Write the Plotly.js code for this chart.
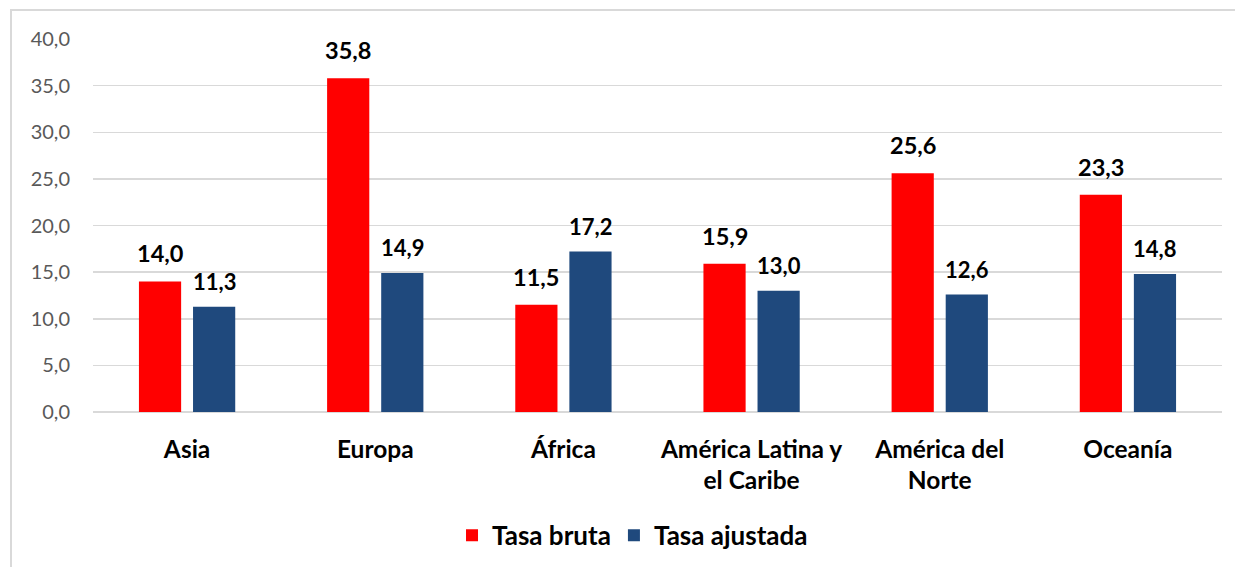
<!DOCTYPE html>
<html>
<head>
<meta charset="utf-8">
<script src="https://cdn.plot.ly/plotly-3.0.1.min.js"></script>
<style>
html,body{margin:0;padding:0;background:#fff;}
#wrap{position:relative;width:1235px;height:567px;overflow:hidden;}
#chart{position:absolute;left:0;top:0;width:1235px;height:567px;}
#frame{position:absolute;left:10px;top:9px;width:1300px;height:700px;border-left:2px solid #d9d9d9;border-top:2px solid #d9d9d9;pointer-events:none;}
</style>
</head>
<body>
<div id="wrap"><div id="chart"></div><div id="frame"></div></div>
<script>
const categories = ["Asia", "Europa", "África", "América Latina y<br>el Caribe", "América del<br>Norte", "Oceanía"];
const tasaBruta = [14.0, 35.8, 11.5, 15.9, 25.6, 23.3];
const tasaAjustada = [11.3, 14.9, 17.2, 13.0, 12.6, 14.8];
const seriesNames = ["Tasa bruta", "Tasa ajustada"];
const yTicks = [0, 5, 10, 15, 20, 25, 30, 35, 40];

const fontFam = "Lato, 'Open Sans', sans-serif";
const fmt = v => v.toFixed(1).replace('.', ',');

const traces = [
  {type:'bar', name:seriesNames[0], x:categories, y:tasaBruta, marker:{color:'#FF0000'}, hoverinfo:'y'},
  {type:'bar', name:seriesNames[1], x:categories, y:tasaAjustada, marker:{color:'#1F497D'}, hoverinfo:'y'}
];

const annotations = [];
categories.forEach((c, i) => {
  annotations.push({x:c, y:tasaBruta[i], xref:'x', yref:'y', text:'<b>'+fmt(tasaBruta[i])+'</b>', showarrow:false, xanchor:'center', yanchor:'bottom', xshift:-27, yshift:12, font:{family:fontFam, size:23.5, color:'#000'}});
  annotations.push({x:c, y:tasaAjustada[i], xref:'x', yref:'y', text:'<b>'+fmt(tasaAjustada[i])+'</b>', showarrow:false, xanchor:'center', yanchor:'bottom', xshift:27, yshift:10, font:{family:fontFam, size:22, color:'#000'}});
});

const layout = {
  width:1235, height:567,
  margin:{l:93, r:13, t:39, b:155, autoexpand:false},
  paper_bgcolor:'rgba(0,0,0,0)', plot_bgcolor:'#fff',
  separators:',.',
  barmode:'group', bargap:0.425, bargroupgap:0.22,
  font:{family:fontFam},
  showlegend:true,
  legend:{orientation:'h', xref:'container', yref:'container', x:0.366, xanchor:'left', y:0.056, yanchor:'middle', font:{family:fontFam, size:26, color:'#000'}, itemwidth:30, traceorder:'normal'},
  xaxis:{type:'category', tickfont:{family:fontFam, size:24.5, color:'#000', weight:'bold'}, showgrid:false, zeroline:false, showline:false, ticks:'', ticklabelstandoff:20, fixedrange:true},
  yaxis:{range:[0,40], tickvals:yTicks, tickformat:'.1f', tickfont:{family:fontFam, size:20, color:'#595959'}, showgrid:true, gridcolor:'#d9d9d9', gridwidth:1.5, zeroline:true, zerolinecolor:'#d9d9d9', zerolinewidth:1.5, showline:false, ticks:'', ticklabelstandoff:22, fixedrange:true},
  annotations:annotations
};

Plotly.newPlot('chart', traces, layout, {displayModeBar:false, staticPlot:true}).then(() => {
  document.querySelectorAll('.legendtext').forEach(t => t.style.fontWeight = 'bold');
});
</script>
</body>
</html>
